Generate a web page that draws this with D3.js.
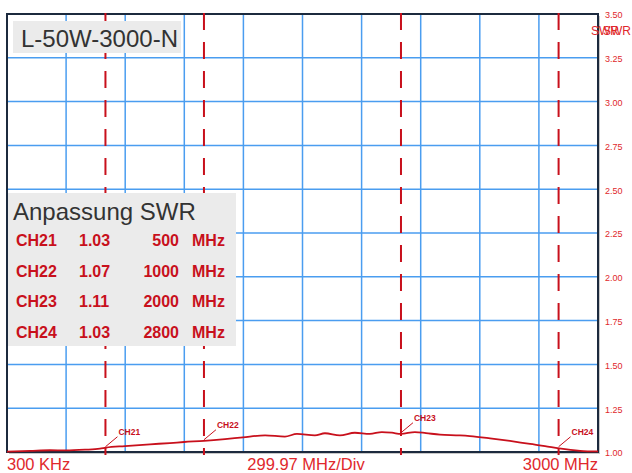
<!DOCTYPE html>
<html>
<head>
<meta charset="utf-8">
<script src="https://cdn.jsdelivr.net/npm/d3@7"></script>
<style>
  body { margin: 0; background: #fff; }
  svg { display: block; font-family: "Liberation Sans", Arial, sans-serif; }
</style>
</head>
<body>
<script>
var w = 632;
var h = 473;

// measured SWR trace (frequency in MHz)
var freqMHz = [0.3, 117, 218, 300, 396, 472, 503, 599, 726, 827, 899, 1000, 1107, 1198, 1310, 1411,
    1472, 1563, 1614, 1690, 1766, 1842, 1903, 1954, 2000, 2071, 2127, 2198, 2299, 2350, 2452,
    2553, 2655, 2731, 2802, 2909, 3000];
var swr = [1.002, 1.006, 1.010, 1.009, 1.013, 1.019, 1.025, 1.034, 1.044, 1.051, 1.057, 1.064, 1.074,
    1.084, 1.095, 1.088, 1.103, 1.095, 1.107, 1.095, 1.110, 1.103, 1.114, 1.110, 1.103, 1.114,
    1.108, 1.099, 1.095, 1.091, 1.078, 1.063, 1.046, 1.034, 1.021, 1.007, 1.003];

// markers
var markerNames = ["CH21", "CH22", "CH23", "CH24"];
var markerFreq = [500, 1000, 2000, 2800];
var markerSwr = [1.03, 1.07, 1.11, 1.03];
var markerSwrText = ["1.03", "1.07", "1.11", "1.03"];

var swrTicks = [1.00, 1.25, 1.50, 1.75, 2.00, 2.25, 2.50, 2.75, 3.00, 3.25, 3.50];
var startLabel = "300 KHz";
var divLabel = "299.97 MHz/Div";
var stopLabel = "3000 MHz";
var freqStart = 0.3, freqStop = 3000, divisions = 10;

var red = "#c8101c";
var labelRed = "#e0282c";
var gridBlue = "#4a9df0";

var svg = d3.select("body")
    .append("svg")
    .attr("width", w)
    .attr("height", h);

var xScale = d3.scaleLinear()
    .domain([freqStart, freqStop])
    .range([7, 598]);

var yScale = d3.scaleLinear()
    .domain([1, 3.5])
    .range([452, 14]);

// shadow + plot background
svg.append("rect")
    .attr("x", 9).attr("y", 16)
    .attr("width", 591).attr("height", 438)
    .style("fill", "#c8c8c8");
svg.append("rect")
    .attr("x", 7).attr("y", 14)
    .attr("width", 591).attr("height", 438)
    .style("fill", "#fff");

// grid
var divStep = (freqStop - freqStart) / divisions;
var vGrid = d3.range(1, divisions).map(function(k) { return freqStart + k * divStep; });

svg.append("g").selectAll("line")
    .data(vGrid)
    .enter()
    .append("line")
    .attr("x1", function(d) { return xScale(d); })
    .attr("x2", function(d) { return xScale(d); })
    .attr("y1", yScale(3.5))
    .attr("y2", yScale(1))
    .style("stroke", gridBlue)
    .style("stroke-width", 1.5);

svg.append("g").selectAll("line")
    .data(swrTicks.slice(1, -1))
    .enter()
    .append("line")
    .attr("x1", xScale(freqStart))
    .attr("x2", xScale(freqStop))
    .attr("y1", function(d) { return yScale(d); })
    .attr("y2", function(d) { return yScale(d); })
    .style("stroke", gridBlue)
    .style("stroke-width", 1.5);

// frame
svg.append("rect")
    .attr("x", 7).attr("y", 14)
    .attr("width", 591).attr("height", 438)
    .style("fill", "none")
    .style("stroke", "#1c2a3e")
    .style("stroke-width", 2);

// right axis
var axis = svg.append("g")
    .attr("transform", "translate(598,1)")
    .call(d3.axisRight(yScale)
        .tickValues(swrTicks)
        .tickFormat(d3.format(".2f"))
        .tickSize(0)
        .tickPadding(7));
axis.select(".domain").remove();
axis.selectAll("text")
    .style("font-family", "'Liberation Sans', Arial, sans-serif")
    .style("font-size", "9px")
    .style("fill", labelRed);

// overlapping axis titles
svg.append("text").attr("x", 591).attr("y", 35)
    .style("font-size", "12px").style("fill", labelRed).text("SWR");
svg.append("text").attr("x", 603).attr("y", 35)
    .style("font-size", "12px").style("fill", labelRed).text("SWR");

// marker lines
svg.append("g").selectAll("line")
    .data(markerFreq)
    .enter()
    .append("line")
    .attr("x1", function(d) { return xScale(d); })
    .attr("x2", function(d) { return xScale(d); })
    .attr("y1", 13)
    .attr("y2", 455)
    .style("stroke", red)
    .style("stroke-width", 2)
    .style("stroke-dasharray", "17,12");

// SWR trace
var line = d3.line()
    .x(function(d, i) { return xScale(freqMHz[i]); })
    .y(function(d) { return yScale(d); })
    .curve(d3.curveMonotoneX);

svg.append("path")
    .datum(swr)
    .attr("d", line)
    .style("fill", "none")
    .style("stroke", red)
    .style("stroke-width", 1.8);

// marker callouts
markerNames.forEach(function(name, i) {
    var mx = xScale(markerFreq[i]);
    var my = yScale(markerSwr[i]);
    svg.append("line")
        .attr("x1", mx).attr("y1", my)
        .attr("x2", mx + 12).attr("y2", my - 10)
        .style("stroke", red)
        .style("stroke-width", 1);
    svg.append("text")
        .attr("x", mx + 13)
        .attr("y", my - 12)
        .style("font-size", "8.5px")
        .style("font-weight", "bold")
        .style("fill", red)
        .text(name);
});

// title box
svg.append("rect")
    .attr("x", 13).attr("y", 21)
    .attr("width", 168).attr("height", 32)
    .style("fill", "#ebebeb");
svg.append("text")
    .attr("x", 21).attr("y", 46.5)
    .style("font-size", "24px")
    .style("fill", "#333")
    .text("L-50W-3000-N");

// Anpassung box
svg.append("rect")
    .attr("x", 8).attr("y", 193)
    .attr("width", 228).attr("height", 153)
    .style("fill", "#ebebeb");
svg.append("text")
    .attr("x", 13).attr("y", 219.5)
    .style("font-size", "24px")
    .style("fill", "#333")
    .text("Anpassung SWR");

var rows = svg.append("g")
    .style("font-size", "16px")
    .style("font-weight", "bold")
    .style("fill", red);

markerNames.forEach(function(name, i) {
    var by = 246 + i * 30.7;
    rows.append("text").attr("x", 16).attr("y", by).text(name);
    rows.append("text").attr("x", 79).attr("y", by).text(markerSwrText[i]);
    rows.append("text").attr("x", 179).attr("y", by)
        .attr("text-anchor", "end").text(markerFreq[i]);
    rows.append("text").attr("x", 192).attr("y", by).text("MHz");
});

// bottom labels
var bottom = svg.append("g")
    .style("font-size", "16.5px")
    .style("fill", labelRed);
bottom.append("text").attr("x", 7).attr("y", 470).text(startLabel);
bottom.append("text").attr("x", 306).attr("y", 470)
    .attr("text-anchor", "middle").text(divLabel);
bottom.append("text").attr("x", 598).attr("y", 470)
    .attr("text-anchor", "end").text(stopLabel);
</script>
</body>
</html>
